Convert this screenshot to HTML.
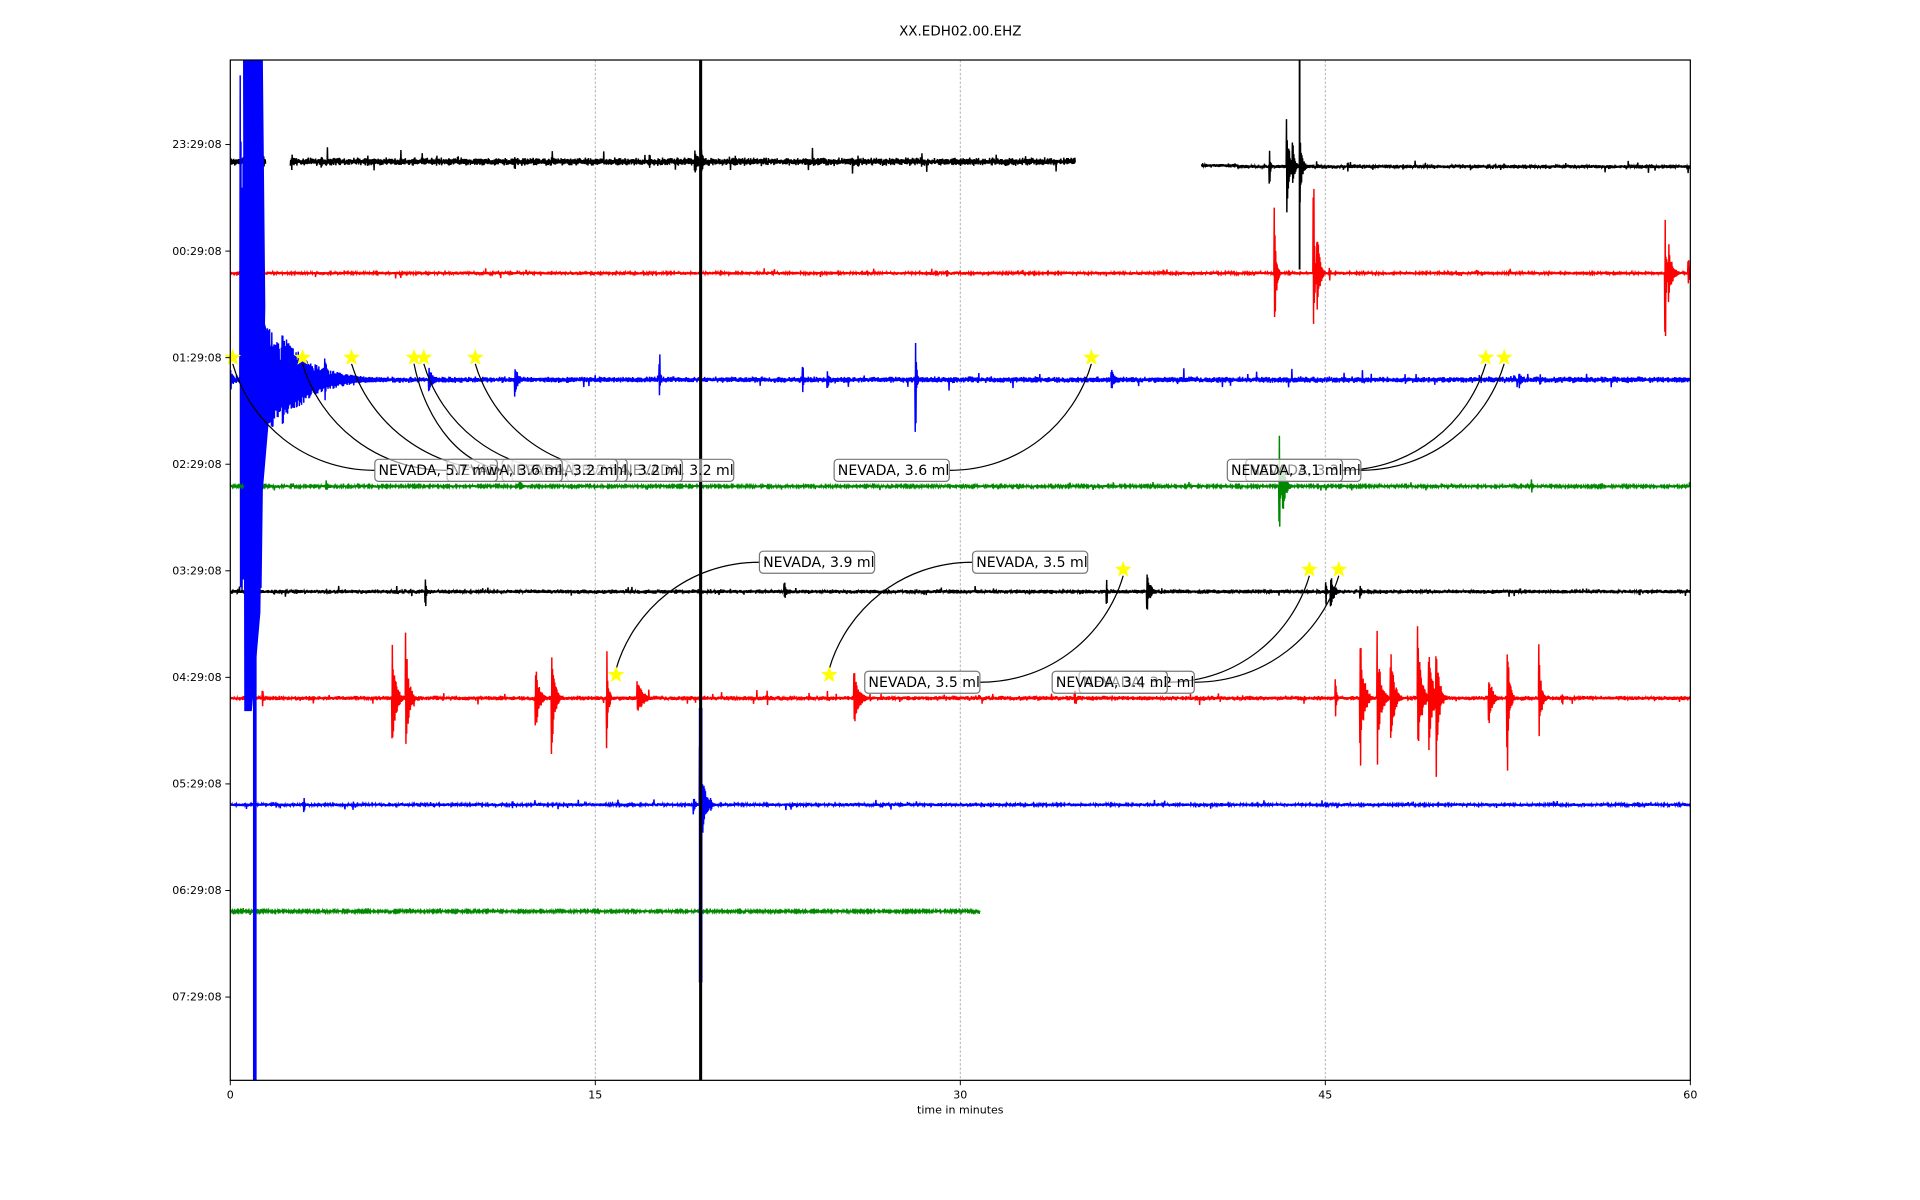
<!DOCTYPE html>
<html><head><meta charset="utf-8"><style>html,body{margin:0;padding:0;background:#fff}svg{display:block}text{font-family:"DejaVu Sans","Liberation Sans",sans-serif}</style></head>
<body>
<svg id="s" width="1920" height="1200" viewBox="0 0 1567.5 979.7" xmlns="http://www.w3.org/2000/svg">
<defs><clipPath id="c"><rect x="188" y="49" width="1192" height="833"/></clipPath></defs>
<rect x="0" y="0" width="1568" height="980" fill="#fff"/>
<text x="784" y="29" font-size="11" text-anchor="middle">XX.EDH02.00.EHZ</text>
<g stroke="#b0b0b0" stroke-width="0.8" stroke-dasharray="2,1.5">
<line x1="486" y1="49" x2="486" y2="882"/><line x1="784" y1="49" x2="784" y2="882"/><line x1="1082" y1="49" x2="1082" y2="882"/>
</g>
<g id="tr" clip-path="url(#c)" fill="none" stroke-width="1.2"></g>
<line x1="572" y1="49" x2="572" y2="882" stroke="#000" stroke-width="2.5"/>
<g id="ann"></g>
<rect x="188" y="49" width="1192" height="833" fill="none" stroke="#000" stroke-width="1"/>
<g font-size="9" text-anchor="end" id="yl"></g>
<g font-size="9" text-anchor="middle">
<text x="188" y="897">0</text><text x="486" y="897">15</text><text x="784" y="897">30</text><text x="1082" y="897">45</text><text x="1380" y="897">60</text>
<text x="784" y="909">time in minutes</text>
</g>
<g stroke="#000" stroke-width="0.8">
<line x1="188" y1="882" x2="188" y2="886"/><line x1="486" y1="882" x2="486" y2="886"/><line x1="784" y1="882" x2="784" y2="886"/><line x1="1082" y1="882" x2="1082" y2="886"/><line x1="1380" y1="882" x2="1380" y2="886"/>
</g>
</svg>
<script>
(function(){
var NS="http://www.w3.org/2000/svg";
var seed=12345;function r(){seed=(seed*1103515245+12345)%2147483648;return seed/2147483648;}
function el(p,n,a,t){var e=document.createElementNS(NS,n);for(var k in a)e.setAttribute(k,a[k]);if(t)e.textContent=t;p.appendChild(e);return e;}
var tr=document.getElementById('tr'),ann=document.getElementById('ann'),yl=document.getElementById('yl');
var labs=["23:29:08","00:29:08","01:29:08","02:29:08","03:29:08","04:29:08","05:29:08","06:29:08","07:29:08"];
for(var i=0;i<9;i++){var y=118+i*87;el(yl,'text',{x:181,y:y+3},labs[i]);el(yl,'line',{x1:184,y1:y,x2:188,y2:y,stroke:'#000','stroke-width':0.8});}
function trace(col,y0,segs,amp,evs,yoff){
 for(var si=0;si<segs.length;si++){
  var sg=segs[si];
  var d="";var step=0.3;var n=0;
  for(var x=sg[0];x<=sg[1];x+=step){
   n++;
   var a=amp*(0.4+r());
   if(r()<0.012)a*=3.5;
   for(var j=0;j<evs.length;j++){var e=evs[j];if(x>=e[0]&&x<e[0]+e[2]*6){var dx=x-e[0];var env=e[1]*Math.exp(-dx/e[2]);if(dx<0.8)env=e[1];if(env>a)a=env;}}
   var yc=y0+(yoff?yoff(x):0);
   var s=(n%2?1:-1);
   var v=s*a*(0.5+0.5*r());
   d+=(d?"L":"M")+x.toFixed(2)+","+(yc+v).toFixed(2);
  }
  el(tr,'path',{d:d,stroke:col});
 }
}
trace('#000',132,[[188,217],[237,878]],2.6,[[203,6,2],[215,5,2],[238,9,1],[262,6,2],[300,5,1],[356,5,1],[420,6,1],[530,8,1],[567,12,3],[572,18,1.5],[600,5,1],[700,5,1],[752,7,1]]);
trace('#000',136,[[981,1380]],1.4,[[1036,18,1],[1050,52,2],[1055,20,2],[1061,30,2],[1100,4,1],[1200,3,1]],function(x){return x<1010?-1:0;});
trace('#f00',223,[[188,1380]],1.1,[[1040,70,1.5],[1072,70,1.2],[1075,50,2],[1085,6,1],[1359,55,1.5],[1362,25,3],[1378,14,2],[773,4,1],[450,3,1]]);
trace('#00f',310,[[188,1380]],2.0,[[188,8,3],[196,250,12],[215,60,18],[230,40,25],[265,20,3],[350,10,4],[420,14,3],[538,22,1],[655,12,1],[675,10,2],[747,45,1],[907,10,3],[1240,7,3],[1257,5,2]]);
trace('#080',397,[[188,1380]],0.9,[[266,5,3],[424,5,3],[1044,48,1.5],[1047,20,3],[1103,4,1],[1250,6,2]]);
trace('#000',483,[[188,1380]],1.4,[[347,14,1],[640,8,2],[903,10,1],[936,18,3],[1082,12,1],[1086,16,3],[1110,6,2],[1338,3,1]]);
trace('#f00',570,[[188,1380]],1.5,[[214,8,1],[320,45,3],[331,55,2.5],[437,30,3],[450,55,2.5],[495,45,1.5],[520,15,5],[626,8,1],[697,25,4],[877,6,1],[1090,20,1],[1110,60,3],[1124,55,3],[1135,45,3],[1157,60,3],[1166,55,3],[1172,65,2.5],[1215,25,3],[1230,60,2],[1256,45,2],[1275,6,1]]);
trace('#00f',657,[[188,1380]],1.1,[[248,8,1],[288,5,1],[418,3,1],[566,8,2],[571,60,3],[580,6,2],[1337,3,1]]);
trace('#080',744,[[188,800]],0.8,[[198,3,1],[300,3,1]]);
el(tr,'path',{d:"M199,49 L214,49 L216,250 L213,420 L212,500 L205,580 L200,580 Z",fill:'#00f',stroke:'#00f'});
el(tr,'path',{d:"M212,250 L225,300 L220,330 L214,400 L213,480 Z",fill:'#00f',stroke:'#00f'});
el(tr,'line',{x1:208,y1:300,x2:208,y2:882,stroke:'#00f','stroke-width':3});
el(tr,'line',{x1:202,y1:250,x2:202,y2:580,stroke:'#00f','stroke-width':2});
el(tr,'line',{x1:572,y1:578,x2:572,y2:802,stroke:'#00f','stroke-width':3});
el(tr,'line',{x1:1061,y1:49,x2:1061,y2:220,stroke:'#000','stroke-width':1.5});
function star(x,y){var p="";for(var k=0;k<10;k++){var rr=k%2?3:7.2;var a=-Math.PI/2+k*Math.PI/5;p+=(x+rr*Math.cos(a)).toFixed(2)+","+(y+rr*Math.sin(a)).toFixed(2)+" ";}el(ann,'polygon',{points:p,fill:'#ff0',stroke:'none'});}
function conn(sx,sy,bx,by){var d="M"+sx+","+sy+" C"+(sx+(bx-sx)*0.12)+","+(sy+(by-sy)*0.55)+" "+(sx+(bx-sx)*0.5)+","+by+" "+bx+","+by;el(ann,'path',{d:d,fill:'none',stroke:'#000','stroke-width':1});}
function box(x,y,t,w){w=w||94;el(ann,'rect',{x:x,y:y-9,width:w,height:18,rx:3,fill:'#fff','fill-opacity':0.55,stroke:'#777','stroke-width':1});el(ann,'text',{x:x+3,y:y+4,'font-size':'11.5'},t);}
var tops=[[190,306,"NEVADA, 5.7 mw",100],[247,365,"NEVADA, 3.6 ml"],[287,410,"NEVADA, 3.2 ml"],[338,418,"NEVADA, 3.2 ml"],[346,463,"NEVADA, 3.2 ml"],[388,505,"NEVADA, 3.2 ml"]];
for(var i=0;i<tops.length;i++)conn(tops[i][0],297,tops[i][1],384);
conn(891,297,775,384);conn(1213,297,1095,384);conn(1228,297,1110,384);
conn(503,546,620,459);conn(677,546,794,459);
conn(917,470,800,557);conn(1069,470,953,557);conn(1093,470,975,557);
for(var i=tops.length-1;i>=0;i--)box(tops[i][1],384,tops[i][2],tops[i][3]);
box(681,384,"NEVADA, 3.6 ml");box(1017,384,"NEVADA, 3.3 ml");box(1002,384,"NEVADA, 3.1 ml");
box(620,459,"NEVADA, 3.9 ml");box(794,459,"NEVADA, 3.5 ml");
box(706,557,"NEVADA, 3.5 ml");box(881,557,"NEVADA, 3.2 ml");box(859,557,"NEVADA, 3.4 ml");
[190,247,287,338,346,388,891,1213,1228].forEach(function(x){star(x,292);});
[917,1069,1093].forEach(function(x){star(x,465);});
[503,677].forEach(function(x){star(x,551);});
})();
</script>
</body></html>
